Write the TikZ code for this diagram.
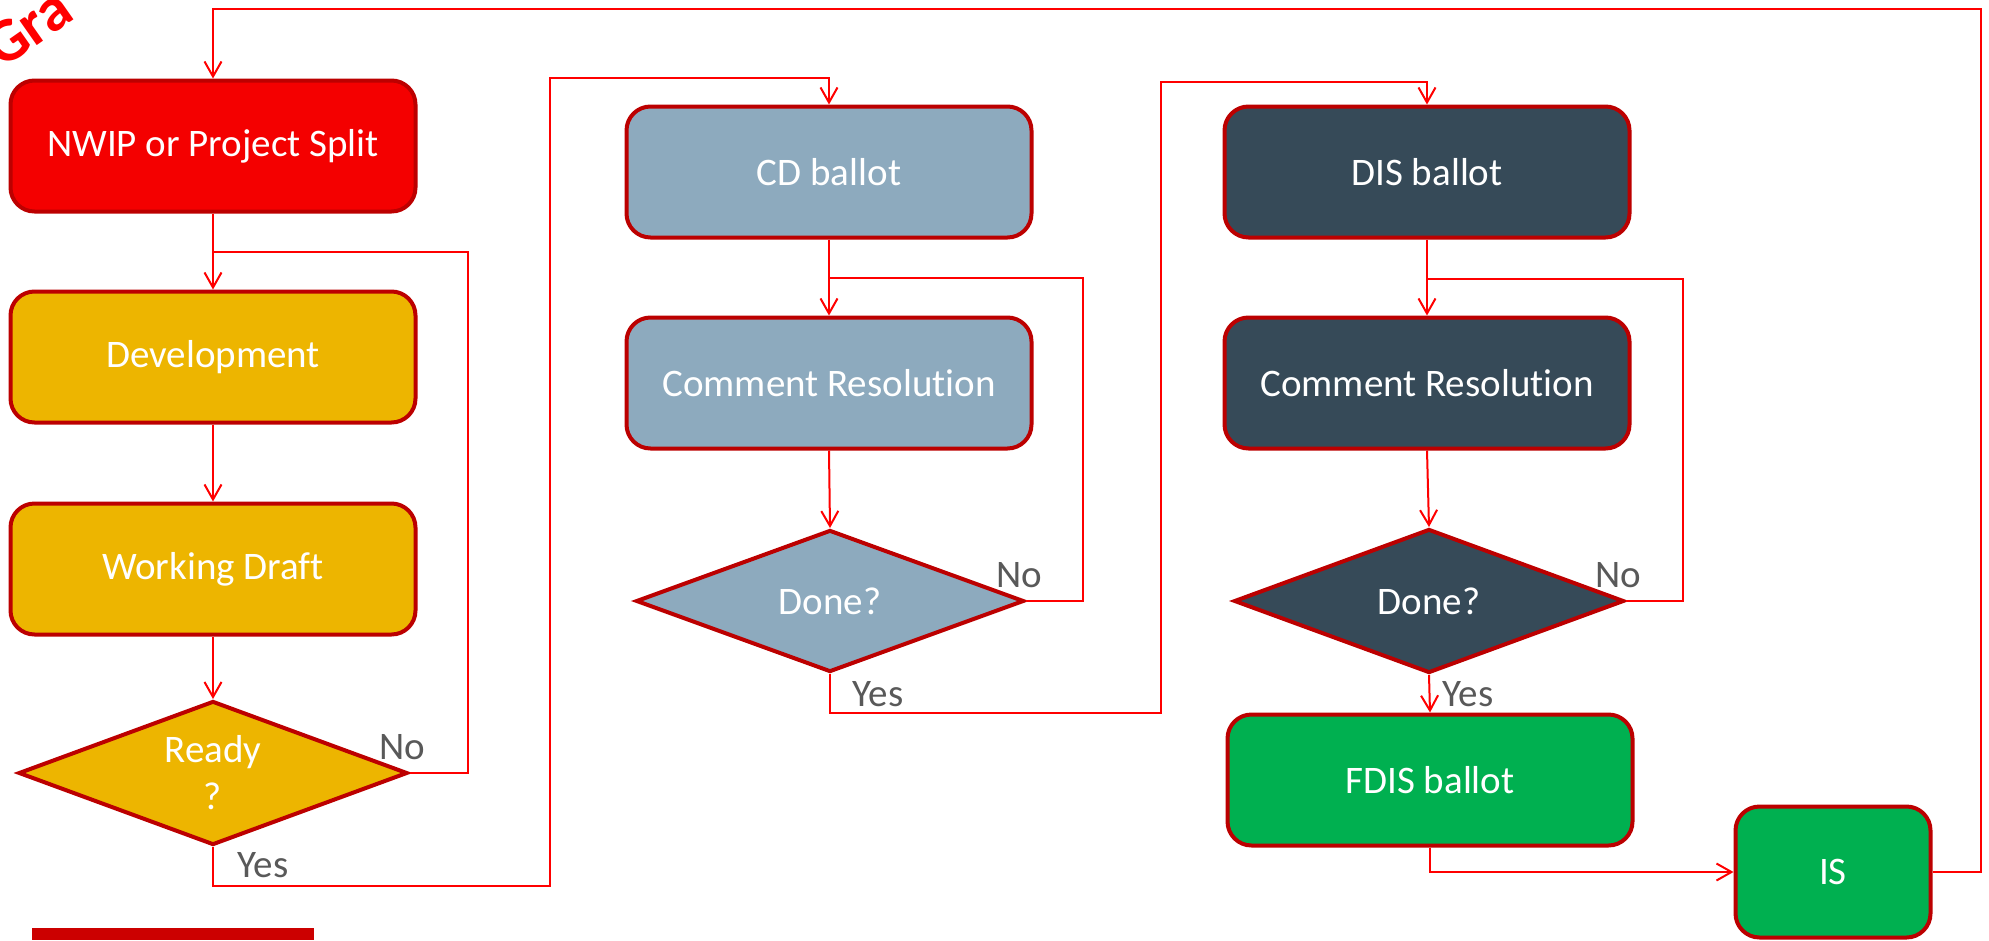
\documentclass[tikz,border=0pt]{standalone}
\usepackage{fontspec}
\setmainfont[Ligatures=NoCommon]{Carlito}
\usetikzlibrary{shapes.geometric,arrows.meta}
\definecolor{boxred}{HTML}{F40000}
\definecolor{edge}{HTML}{BC0000}
\definecolor{gold}{HTML}{EDB500}
\definecolor{cdblue}{HTML}{8DAABE}
\definecolor{disdark}{HTML}{364A58}
\definecolor{fgreen}{HTML}{00B050}
\definecolor{lblgrey}{HTML}{595959}
\definecolor{conred}{HTML}{FF0000}
\definecolor{barred}{HTML}{CC0000}
\tikzset{
  txt/.style={font=\fontsize{39}{47}\selectfont},
  stepbox/.style={rectangle, rounded corners=24pt, draw=edge, line width=4pt,
    minimum width=405pt, minimum height=131pt, text=white, txt, inner sep=0pt},
  decision/.style={diamond, draw=edge, line width=4pt, text=white, txt,
    inner sep=0pt, align=center},
  conn/.style={draw=conred, line width=2pt},
  arr/.style={-{Straight Barb[length=15pt,width=17pt]}},
  lbl/.style={text=lblgrey, txt, inner sep=0pt}
}
\begin{document}
\begin{tikzpicture}[x=1pt,y=-1pt]
\useasboundingbox (0,0) rectangle (1989,940);
\clip (0,0) rectangle (1989,940);
% watermark fragment
\node[text=conred, font=\fontsize{62}{70}\selectfont\bfseries, rotate=35, anchor=base west, inner sep=0pt] (wm) at (2,70) {Gra};
% nodes
\node[stepbox, fill=boxred] (nwip) at (213,146) {NWIP or Project Split};
\node[stepbox, fill=gold] (dev) at (213,357) {Development};
\node[stepbox, fill=gold] (wd) at (213,569) {Working Draft};
\node[decision, fill=gold, minimum width=389pt, minimum height=144pt, aspect=2.7] (ready) at (213,773) {Ready\\?};
\node[stepbox, fill=cdblue] (cd) at (829,172) {CD ballot};
\node[stepbox, fill=cdblue] (cdcr) at (829,383) {Comment Resolution};
\node[decision, fill=cdblue, minimum width=388pt, minimum height=142pt, aspect=2.73] (cddone) at (830,601) {Done?};
\node[stepbox, fill=disdark] (dis) at (1427,172) {DIS ballot};
\node[stepbox, fill=disdark] (discr) at (1427,383) {Comment Resolution};
\node[decision, fill=disdark, minimum width=390pt, minimum height=144pt, aspect=2.7] (disdone) at (1429,601) {Done?};
\node[stepbox, fill=fgreen] (fdis) at (1430,780) {FDIS ballot};
\node[stepbox, fill=fgreen, minimum width=195pt, minimum height=131pt] (is) at (1833,872) {IS};
% labels
\node[lbl] (l1) at (402,747) {No};
\node[lbl] (l2) at (263,865) {Yes};
\node[lbl] (l3) at (1019,575) {No};
\node[lbl] (l4) at (878,694) {Yes};
\node[lbl] (l5) at (1618,575) {No};
\node[lbl] (l6) at (1468,694) {Yes};
% connectors
\draw[conn,arr] (is.east) -| (1981,9) -| (nwip.north);
\draw[conn,arr] (nwip.south) -- (dev.north);
\draw[conn] (ready.east) -| (468,252) -- (nwip.south |- 0,252);
\draw[conn,arr] (dev.south) -- (wd.north);
\draw[conn,arr] (wd.south) -- (ready.north);
\draw[conn,arr] (ready.south) |- (550,886) |- (829,78) -- (cd.north);
\draw[conn,arr] (cd.south) -- (cdcr.north);
\draw[conn] (cddone.east) -| (1083,278) -- (cd.south |- 0,278);
\draw[conn,arr] (cdcr.south) -- (cddone.north);
\draw[conn,arr] (cddone.south) |- (1161,713) |- (1427,82) -- (dis.north);
\draw[conn,arr] (dis.south) -- (discr.north);
\draw[conn] (disdone.east) -| (1683,279) -- (dis.south |- 0,279);
\draw[conn,arr] (discr.south) -- (disdone.north);
\draw[conn,arr] (disdone.south) -- (fdis.north);
\draw[conn,arr] (fdis.south) |- (is.west);
% bottom bar
\fill[barred] (32,928) rectangle (314,940);
\end{tikzpicture}
\end{document}
